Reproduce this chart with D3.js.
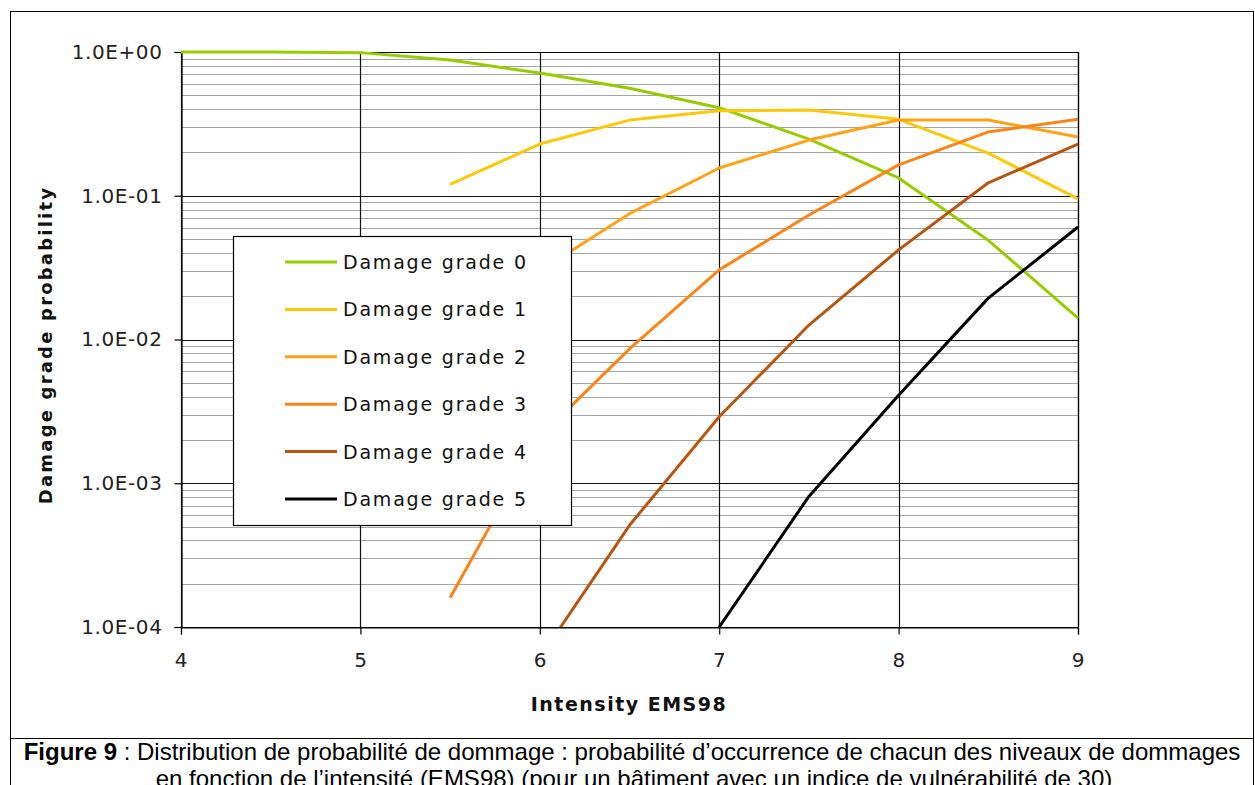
<!DOCTYPE html>
<html>
<head>
<meta charset="utf-8">
<script src="https://cdn.jsdelivr.net/npm/d3@7"></script>
<style>
  html, body { margin: 0; padding: 0; background: #fff; }
  svg { display: block; }
</style>
</head>
<body>
<svg id="chart" width="1255" height="785"></svg>
<script>
// Intensity values (EMS98) at which the damage probabilities are given
const intensity = [4, 4.5, 5, 5.5, 6, 6.5, 7, 7.5, 8, 8.5, 9];

// Probability of each damage grade (null = not plotted)
const grade0 = [1, 1, 0.99, 0.88, 0.714, 0.56, 0.41, 0.248, 0.133, 0.049, 0.0141];
const grade1 = [null, null, null, 0.12, 0.229, 0.336, 0.39, 0.395, 0.34, 0.198, 0.095];
const grade2 = [null, null, null, 0.007, 0.030, 0.075, 0.156, 0.244, 0.336, 0.336, 0.256];
const grade3 = [null, null, null, 0.00016, 0.0021, 0.0086, 0.0305, 0.0735, 0.164, 0.278, 0.34];
const grade4 = [null, null, null, null, 0.000061, 0.00051, 0.0029, 0.0126, 0.042, 0.123, 0.229];
const grade5 = [null, null, null, null, null, null, 0.0001, 0.00081, 0.0041, 0.0194, 0.0606];

const seriesNames = ["Damage grade 0", "Damage grade 1", "Damage grade 2",
                     "Damage grade 3", "Damage grade 4", "Damage grade 5"];
const seriesColors = ["#99cc00", "#fcc80a", "#ffa218", "#fa8418", "#ba5510", "#000000"];

const xTicks = [4, 5, 6, 7, 8, 9];
const yTicks = [1e-4, 1e-3, 1e-2, 1e-1, 1];
const yTickLabels = ["1.0E-04", "1.0E-03", "1.0E-02", "1.0E-01", "1.0E+00"];

const xTitle = "Intensity EMS98";
const yTitle = "Damage grade probability";
const captionBold = "Figure 9";
const captionLine1 = " : Distribution de probabilité de dommage : probabilité d’occurrence de chacun des niveaux de dommages";
const captionLine2 = "en fonction de l’intensité (EMS98) (pour un bâtiment avec un indice de vulnérabilité de 30)";

const series = [grade0, grade1, grade2, grade3, grade4, grade5].map((vals, i) => ({
  name: seriesNames[i],
  color: seriesColors[i],
  points: intensity.map((x, j) => ({ x, v: vals[j] }))
}));

const svg = d3.select("#chart");
const plot = { left: 181, right: 1078, top: 52, bottom: 627 };

const x = d3.scaleLinear().domain([4, 9]).range([plot.left, plot.right]);
const y = d3.scaleLog().domain([1e-4, 1]).range([plot.bottom, plot.top]);

// Outer frame of the figure and caption box
svg.append("rect")
  .attr("x", 10.5).attr("y", 11.5)
  .attr("width", 1243).attr("height", 727)
  .attr("fill", "none").attr("stroke", "#000").attr("stroke-width", 1);
svg.append("rect")
  .attr("x", 10.5).attr("y", 738.5)
  .attr("width", 1243).attr("height", 60)
  .attr("fill", "none").attr("stroke", "#000").attr("stroke-width", 1);

// Minor horizontal gridlines (2..9 within each decade)
const minor = [];
for (let e = -4; e < 0; e++) for (let k = 2; k <= 9; k++) minor.push(k * Math.pow(10, e));
svg.append("g")
  .selectAll("line").data(minor).join("line")
  .attr("x1", plot.left).attr("x2", plot.right)
  .attr("y1", d => Math.round(y(d)) + 0.5).attr("y2", d => Math.round(y(d)) + 0.5)
  .attr("stroke", "#a4a4a4").attr("stroke-width", 1.2);

// Major gridlines
svg.append("g")
  .selectAll("line").data(yTicks).join("line")
  .attr("x1", plot.left).attr("x2", plot.right)
  .attr("y1", d => Math.round(y(d)) + 0.5).attr("y2", d => Math.round(y(d)) + 0.5)
  .attr("stroke", "#111").attr("stroke-width", 1.2);
svg.append("g")
  .selectAll("line").data(xTicks).join("line")
  .attr("y1", plot.top).attr("y2", plot.bottom)
  .attr("x1", d => Math.round(x(d)) + 0.5).attr("x2", d => Math.round(x(d)) + 0.5)
  .attr("stroke", "#111").attr("stroke-width", 1.2);

// Plot border (top and right)
svg.append("path")
  .attr("d", `M${plot.left},${plot.top + 0.5}H${plot.right + 0.5}V${plot.bottom}`)
  .attr("fill", "none").attr("stroke", "#000").attr("stroke-width", 1.2);

// Axes
const fmtY = d => yTickLabels[yTicks.indexOf(d)];
const yAxis = svg.append("g")
  .attr("transform", `translate(${plot.left + 0.5},0)`)
  .call(d3.axisLeft(y).tickValues(yTicks).tickFormat(fmtY).tickSize(7).tickPadding(12));
const xAxis = svg.append("g")
  .attr("transform", `translate(0,${Math.round(y(1e-4)) + 0.5})`)
  .call(d3.axisBottom(x).tickValues(xTicks).tickFormat(d3.format("d")).tickSize(7).tickPadding(18));
[yAxis, xAxis].forEach(a => {
  a.select(".domain").attr("stroke", "#000").attr("stroke-width", 1.2);
  a.selectAll(".tick line").attr("stroke", "#000").attr("stroke-width", 1.2);
  a.selectAll(".tick text")
    .attr("fill", "#222")
    .style("font-family", "'DejaVu Sans', sans-serif")
    .style("font-size", "20px")
    .style("letter-spacing", "0.6px");
});

// Clip the series to the plotting region (a little room above for the 1.0 line)
svg.append("clipPath").attr("id", "plot-clip")
  .append("rect")
  .attr("x", plot.left).attr("y", plot.top - 3)
  .attr("width", plot.right - plot.left + 3).attr("height", plot.bottom - plot.top + 3);

const line = d3.line()
  .defined(d => d.v != null && d.v > 0)
  .x(d => x(d.x))
  .y(d => y(d.v));

svg.append("g").attr("clip-path", "url(#plot-clip)")
  .selectAll("path").data(series).join("path")
  .attr("d", d => line(d.points))
  .attr("fill", "none")
  .attr("stroke", d => d.color)
  .attr("stroke-width", 3)
  .attr("stroke-linejoin", "round");

// Axis titles
svg.append("text")
  .attr("x", 629).attr("y", 711)
  .attr("text-anchor", "middle")
  .style("font-family", "'DejaVu Sans', sans-serif")
  .style("font-weight", "bold")
  .style("font-size", "19px")
  .style("letter-spacing", "1.5px")
  .attr("fill", "#111")
  .text(xTitle);
svg.append("text")
  .attr("transform", "translate(52,345) rotate(-90)")
  .attr("text-anchor", "middle")
  .style("font-family", "'DejaVu Sans', sans-serif")
  .style("font-weight", "bold")
  .style("font-size", "18px")
  .style("letter-spacing", "2.2px")
  .attr("fill", "#111")
  .text(yTitle);

// Legend
const legend = svg.append("g");
legend.append("rect")
  .attr("x", 233.5).attr("y", 236.5)
  .attr("width", 338).attr("height", 289)
  .attr("fill", "#fff").attr("stroke", "#000").attr("stroke-width", 1.2);
const rowY = d3.scalePoint().domain(seriesNames).range([262, 499]);
const rows = legend.selectAll("g.row").data(series).join("g")
  .attr("class", "row")
  .attr("transform", d => `translate(0,${rowY(d.name)})`);
rows.append("line")
  .attr("x1", 285).attr("x2", 337).attr("y1", 0).attr("y2", 0)
  .attr("stroke", d => d.color).attr("stroke-width", 3);
rows.append("text")
  .attr("x", 343).attr("y", 7)
  .style("font-family", "'DejaVu Sans', sans-serif")
  .style("font-size", "19px")
  .style("letter-spacing", "1.8px")
  .attr("fill", "#111")
  .text(d => d.name);

// Caption
const cap = svg.append("g")
  .style("font-family", "'Liberation Sans', Arial, sans-serif")
  .style("font-size", "24px")
  .attr("fill", "#000");
const t1 = cap.append("text").attr("x", 632).attr("y", 760).attr("text-anchor", "middle");
t1.append("tspan").style("font-weight", "bold").text(captionBold);
t1.append("tspan").text(captionLine1);
cap.append("text").attr("x", 634).attr("y", 787).attr("text-anchor", "middle").text(captionLine2);
</script>
</body>
</html>
